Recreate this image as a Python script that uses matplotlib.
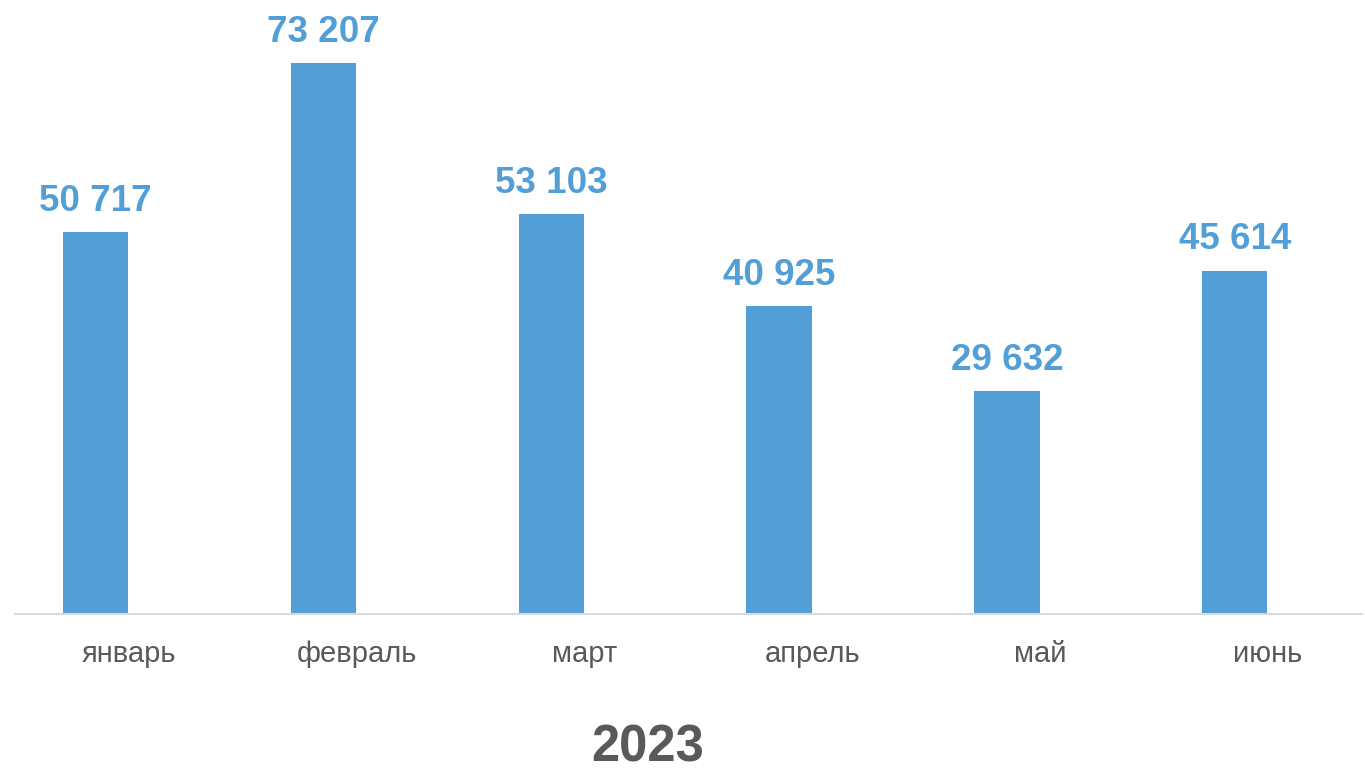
import matplotlib
matplotlib.use("Agg")
import matplotlib.pyplot as plt
import numpy as np

months = ["январь", "февраль", "март", "апрель", "май", "июнь"]
values = [50717, 73207, 53103, 40925, 29632, 45614]
year_label = "2023"

BAR_COLOR = "#529FD8"
TEXT_GRAY = "#595959"

plt.rcParams['font.family'] = ['Liberation Sans', 'DejaVu Sans']

W, H = 1365, 771
fig = plt.figure(figsize=(W / 100, H / 100), dpi=100)
ax_left = 15 / W
ax_right = 1362 / W
ax_bottom = 1 - 614 / H
ax = fig.add_axes([ax_left, ax_bottom, ax_right - ax_left, 1 - ax_bottom])

x = np.arange(len(months))
ax.bar(x, values, width=0.287, color=BAR_COLOR, zorder=2)

# x-limits mapped so that bars land at reference positions
px_per_cat = 227.8
first_center = 95.7
ax.set_xlim((15 - first_center) / px_per_cat, (1362 - first_center) / px_per_cat)
scale = (614 - 63) / 73207.0
ax.set_ylim(0, 614 / scale)

for xi, v in zip(x, values):
    txt = f"{v:,}".replace(",", " ")
    ax.annotate(txt, (xi, v), xytext=(0, 9.5), textcoords="offset points",
                ha="center", va="bottom", fontsize=26.5, fontweight="bold",
                color=BAR_COLOR)

ax.set_xticks(x + 0.145)
ax.set_xticklabels(months, fontsize=21, color=TEXT_GRAY)
ax.tick_params(axis="x", length=0, pad=19)
ax.set_yticks([])
for s in ["top", "right", "left"]:
    ax.spines[s].set_visible(False)
ax.spines["bottom"].set_color("#D9D9D9")
ax.spines["bottom"].set_linewidth(1.5)

fig.text((590 + 705) / 2 / W, 1 - 748 / H, year_label, ha="center", va="center",
         fontsize=36.5, fontweight="bold", color=TEXT_GRAY)

fig.savefig("out.png", dpi=100, facecolor="white")
